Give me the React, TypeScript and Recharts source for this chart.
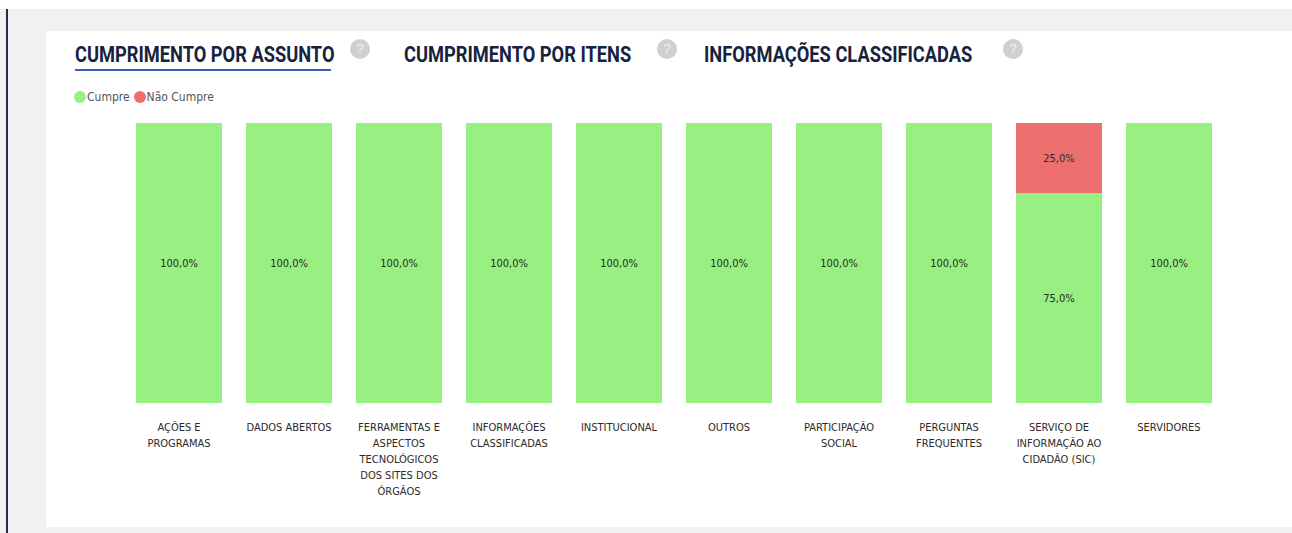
import React from 'react';
import { BarChart, Bar, XAxis, YAxis, LabelList } from 'recharts';

const categories = [
  'AÇÕES E PROGRAMAS',
  'DADOS ABERTOS',
  'FERRAMENTAS E ASPECTOS TECNOLÓGICOS DOS SITES DOS ÓRGÃOS',
  'INFORMAÇÕES CLASSIFICADAS',
  'INSTITUCIONAL',
  'OUTROS',
  'PARTICIPAÇÃO SOCIAL',
  'PERGUNTAS FREQUENTES',
  'SERVIÇO DE INFORMAÇÃO AO CIDADÃO (SIC)',
  'SERVIDORES',
];
const cumpre = [100, 100, 100, 100, 100, 100, 100, 100, 75, 100];
const naoCumpre = [0, 0, 0, 0, 0, 0, 0, 0, 25, 0];
const tabs = ['CUMPRIMENTO POR ASSUNTO', 'CUMPRIMENTO POR ITENS', 'INFORMAÇÕES CLASSIFICADAS'];
const seriesNames = ['Cumpre', 'Não Cumpre'];

const GREEN = '#98F082';
const RED = '#ED706E';
const FONT = '"DejaVu Sans Condensed", "DejaVu Sans", Verdana, sans-serif';

const data = categories.map((c, i) => ({ name: c, cumpre: cumpre[i], naoCumpre: naoCumpre[i] }));

const fmt = (v: any) => (typeof v === 'number' && v > 0 ? `${v.toFixed(1).replace('.', ',')}%` : '');

let ctx: CanvasRenderingContext2D | null = null;
const measure = (s: string) => {
  if (!ctx && typeof document !== 'undefined') {
    ctx = document.createElement('canvas').getContext('2d');
  }
  if (!ctx) return s.length * 6.5;
  ctx.font = `11px ${FONT}`;
  return ctx.measureText(s).width;
};

const wrap = (s: string, maxW: number) => {
  const words = s.split(' ');
  const lines: string[] = [];
  let cur = '';
  for (const w of words) {
    const cand = cur ? `${cur} ${w}` : w;
    if (cur && measure(cand) > maxW) {
      lines.push(cur);
      cur = w;
    } else {
      cur = cand;
    }
  }
  if (cur) lines.push(cur);
  return lines;
};

const Tick = (props: any) => {
  const { x, y, payload } = props;
  const lines = wrap(String(payload.value), 96);
  return (
    <text x={x} y={y} textAnchor="middle" fontSize={11} fontFamily={FONT} fill="#2a2a2a">
      {lines.map((l, i) => (
        <tspan key={i} x={x} y={y + 20 + i * 16}>
          {l}
        </tspan>
      ))}
    </text>
  );
};

const LegendBox = () => (
  <div
    style={{
      position: 'absolute',
      left: 74,
      top: 89,
      display: 'flex',
      alignItems: 'center',
      fontFamily: FONT,
      fontSize: 12,
      lineHeight: '16px',
      color: '#555',
    }}
  >
    {seriesNames.map((n, i) => (
      <span key={n} style={{ display: 'flex', alignItems: 'center', marginRight: 4 }}>
        <span
          style={{
            width: 12,
            height: 12,
            borderRadius: '50%',
            background: i === 0 ? GREEN : RED,
            display: 'inline-block',
            marginRight: 1,
          }}
        />
        {n}
      </span>
    ))}
  </div>
);

const Help = ({ left }: { left: number }) => (
  <div
    style={{
      position: 'absolute',
      left,
      top: 39,
      width: 20,
      height: 20,
      borderRadius: '50%',
      background: '#d0d0d0',
      color: '#f4f4f4',
      fontFamily: 'Arial, sans-serif',
      fontSize: 13,
      lineHeight: '20px',
      textAlign: 'center',
    }}
  >
    ?
  </div>
);

export default function App() {
  const tabLefts = [75, 404, 704];
  const helpLefts = [350, 657, 1003];
  return (
    <div style={{ position: 'absolute', left: 0, top: 0, width: 1292, height: 533, background: '#fff', overflow: 'hidden' }}>
      <div style={{ position: 'absolute', left: 0, top: 9, width: 1292, height: 524, background: '#f1f1f1' }} />
      <div style={{ position: 'absolute', left: 6, top: 9, width: 2, height: 524, background: '#1f2d50' }} />
      <div style={{ position: 'absolute', left: 46, top: 31, width: 1246, height: 496, background: '#fff' }} />
      {tabs.map((t, i) => (
        <div
          key={t}
          style={{
            position: 'absolute',
            left: tabLefts[i],
            top: 41,
            fontFamily: 'Roboto, Arial, sans-serif',
            fontWeight: 700,
            fontSize: 22,
            lineHeight: '28px',
            color: '#17223f',
            whiteSpace: 'nowrap',
            transform: 'scaleX(0.83)',
            transformOrigin: '0 0',
          }}
        >
          {t}
        </div>
      ))}
      <div style={{ position: 'absolute', left: 75, top: 69, width: 256, height: 2, background: '#2f63b8' }} />
      {helpLefts.map((l) => (
        <Help key={l} left={l} />
      ))}
      <LegendBox />
      <div style={{ position: 'absolute', left: 0, top: 0 }}>
        <BarChart
          width={1292}
          height={533}
          data={data}
          margin={{ top: 123, right: 68, left: 124, bottom: 30 }}
          barCategoryGap={12}
        >
          <XAxis
            dataKey="name"
            axisLine={false}
            tickLine={false}
            interval={0}
            height={100}
            tick={<Tick />}
          />
          <YAxis hide domain={[0, 100]} />
          <Bar dataKey="cumpre" stackId="a" fill={GREEN} isAnimationActive={false}>
            <LabelList dataKey="cumpre" position="center" formatter={fmt} fill="#2a2a2a" fontSize={11} fontFamily={FONT} />
          </Bar>
          <Bar dataKey="naoCumpre" stackId="a" fill={RED} isAnimationActive={false}>
            <LabelList dataKey="naoCumpre" position="center" formatter={fmt} fill="#2a2a2a" fontSize={11} fontFamily={FONT} />
          </Bar>
        </BarChart>
      </div>
    </div>
  );
}
